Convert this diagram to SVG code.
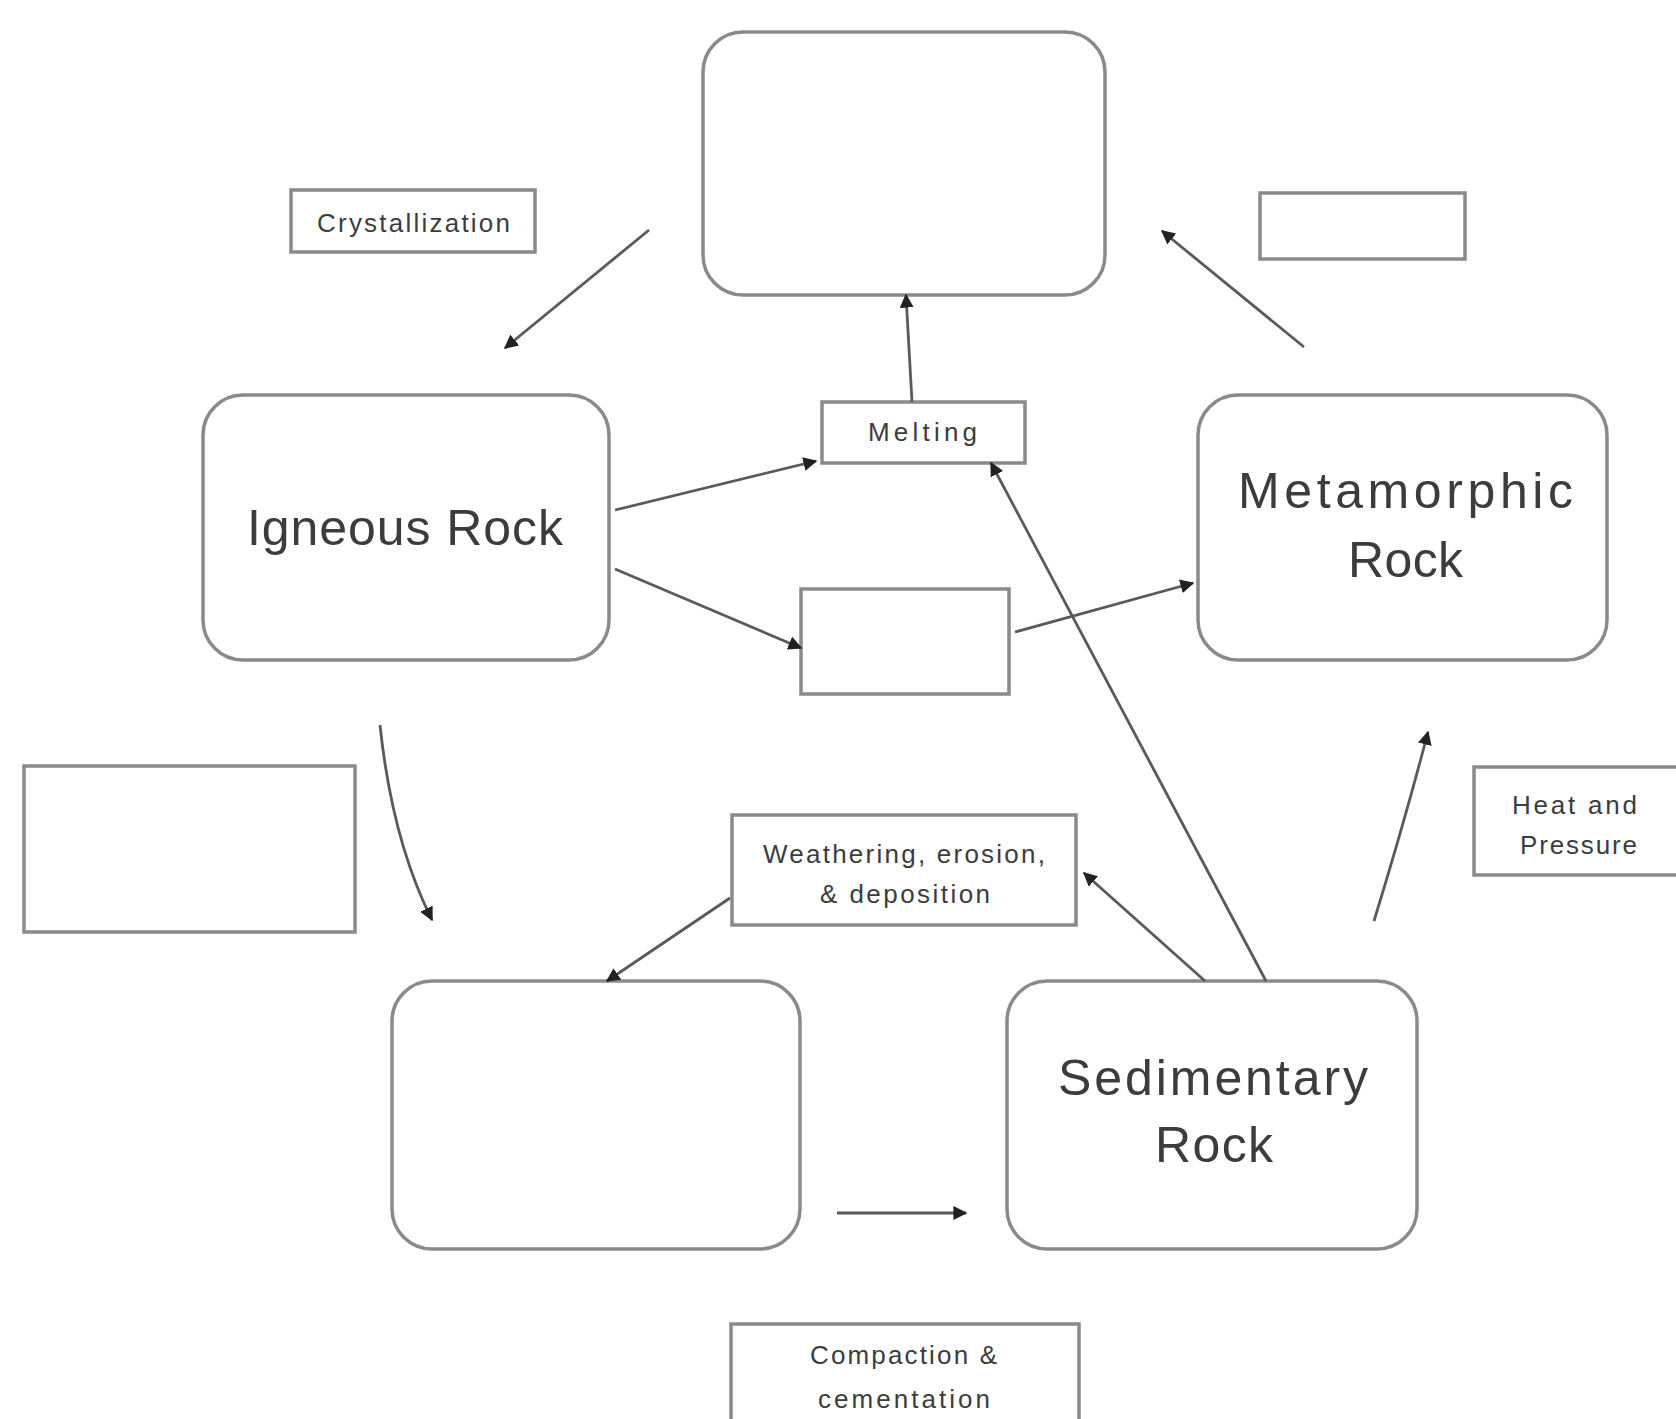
<svg xmlns="http://www.w3.org/2000/svg" width="1676" height="1419" viewBox="0 0 1676 1419">
<style>
.big{fill:#fff;stroke:#8a8a8a;stroke-width:3.5}
.lbl{fill:#fff;stroke:#8a8a8a;stroke-width:3.5}
.t{font-family:"Liberation Sans",Arial,sans-serif;fill:#3c3c3c;text-anchor:start}
.tb{font-size:50px}
.ts{font-size:26px}
.c{fill:none;stroke:#5a5a5a;stroke-width:2.8;marker-end:url(#ah)}
</style>
<defs>
<marker id="ah" markerUnits="userSpaceOnUse" markerWidth="14" markerHeight="14" viewBox="0 0 10 10" refX="9" refY="5" orient="auto">
<path d="M0,0 L10,5 L0,10 z" fill="#222"/>
</marker>
</defs>
<rect width="1676" height="1419" fill="#fff"/>
<g id="magma"><rect class="big" x="703" y="32" width="402" height="263" rx="40"/></g>
<g id="igneous"><rect class="big" x="203" y="395" width="406" height="265" rx="40"/>
<text class="t tb" x="247" y="545" textLength="316">Igneous Rock</text></g>
<g id="metamorphic"><rect class="big" x="1198" y="395" width="409" height="265" rx="40"/>
<text class="t tb" x="1238" y="508" textLength="335">Metamorphic</text>
<text class="t tb" x="1348" y="577" textLength="115">Rock</text></g>
<g id="sediments"><rect class="big" x="392" y="981" width="408" height="268" rx="40"/></g>
<g id="sedimentary"><rect class="big" x="1007" y="981" width="410" height="268" rx="40"/>
<text class="t tb" x="1058" y="1095" textLength="310">Sedimentary</text>
<text class="t tb" x="1155" y="1162" textLength="118">Rock</text></g>
<g id="crystallization"><rect class="lbl" x="291" y="190" width="244" height="62"/>
<text class="t ts" x="317" y="232" textLength="193">Crystallization</text></g>
<g id="melting"><rect class="lbl" x="822" y="402" width="203" height="61"/>
<text class="t ts" x="868" y="441" textLength="109">Melting</text></g>
<g id="blank-top-right"><rect class="lbl" x="1260" y="193" width="205" height="66"/></g>
<g id="blank-middle"><rect class="lbl" x="801" y="589" width="208" height="105"/></g>
<g id="blank-left"><rect class="lbl" x="24" y="766" width="331" height="166"/></g>
<g id="heat-pressure"><rect class="lbl" x="1474" y="767" width="210" height="108"/>
<text class="t ts" x="1512" y="814" textLength="125">Heat and</text>
<text class="t ts" x="1520" y="854" textLength="117">Pressure</text></g>
<g id="weathering"><rect class="lbl" x="732" y="815" width="344" height="110"/>
<text class="t ts" x="763" y="863" textLength="282">Weathering, erosion,</text>
<text class="t ts" x="820" y="903" textLength="170">&amp; deposition</text></g>
<g id="compaction"><rect class="lbl" x="731" y="1324" width="348" height="110"/>
<text class="t ts" x="810" y="1364" textLength="187">Compaction &amp;</text>
<text class="t ts" x="818" y="1408" textLength="172">cementation</text></g>
<g id="connectors">
<path class="c" d="M649,230 L505,348"/>
<path class="c" d="M912,402 L906,295"/>
<path class="c" d="M1304,347 L1162,231"/>
<path class="c" d="M615,510 L816,461"/>
<path class="c" d="M615,569 L801,648"/>
<path class="c" d="M1015,632 L1193,583"/>
<path class="c" d="M1266,981 L991,463"/>
<path class="c" d="M380,725 Q392,840 432,920"/>
<path class="c" d="M730,898 L607,981"/>
<path class="c" d="M1205,981 L1084,873"/>
<path class="c" d="M1374,921 Q1405,820 1428,732"/>
<path class="c" d="M837,1213 L966,1213"/>
</g>
</svg>
